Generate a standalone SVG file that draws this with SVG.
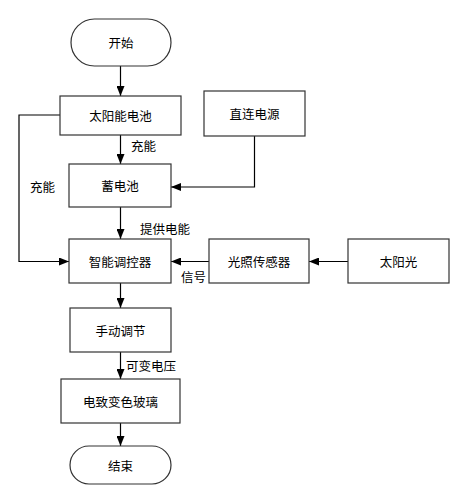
<svg xmlns="http://www.w3.org/2000/svg" width="466" height="504" viewBox="0 0 466 504">
<defs>
<marker id="arr" markerWidth="10" markerHeight="8" refX="10" refY="4" orient="auto" markerUnits="userSpaceOnUse">
<path d="M0,0 L10,4 L0,8 Z" fill="#000"/>
</marker>
<style>
.box{fill:#fff;stroke:#333;stroke-width:1.2}
.t{font-family:"Noto Sans CJK SC","Liberation Sans",sans-serif;font-size:12.5px;fill:#000;text-anchor:middle;dominant-baseline:central}
.l{font-family:"Noto Sans CJK SC","Liberation Sans",sans-serif;font-size:12.5px;fill:#000}
.c{fill:none;stroke:#000;stroke-width:1.2;marker-end:url(#arr)}
</style>
</defs>
<rect width="466" height="504" fill="#fff"/>
<g id="connectors">
<path class="c" d="M120.5 66 V96"/>
<path class="c" d="M120.5 135 V164"/>
<path class="c" d="M254.5 136 V187 H171"/>
<path class="c" d="M60 115 H19 V261.5 H69"/>
<path class="c" d="M120.5 207 V239"/>
<path class="c" d="M209 261.5 H171"/>
<path class="c" d="M348 261.5 H309"/>
<path class="c" d="M120.5 283 V308"/>
<path class="c" d="M120.5 352 V379"/>
<path class="c" d="M120.5 423 V446"/>
<text class="l" x="131" y="151">充能</text>
<text class="l" x="30" y="192">充能</text>
<text class="l" x="140" y="234">提供电能</text>
<text class="l" x="181" y="282">信号</text>
<text class="l" x="126" y="371">可变电压</text>
</g>
<g id="start"><rect class="box" x="71" y="19" width="100" height="47" rx="23.5"/><text class="t" x="121" y="42.5">开始</text></g>
<g id="solar"><rect class="box" x="60" y="96" width="121" height="39"/><text class="t" x="120.5" y="115.5">太阳能电池</text></g>
<g id="direct"><rect class="box" x="204" y="91" width="101" height="45"/><text class="t" x="254.5" y="113.5">直连电源</text></g>
<g id="battery"><rect class="box" x="69" y="164" width="102" height="43"/><text class="t" x="120" y="185.5">蓄电池</text></g>
<g id="controller"><rect class="box" x="69" y="239" width="102" height="44"/><text class="t" x="120" y="261">智能调控器</text></g>
<g id="sensor"><rect class="box" x="209" y="239" width="100" height="44"/><text class="t" x="259" y="261">光照传感器</text></g>
<g id="sun"><rect class="box" x="348" y="239" width="101" height="44"/><text class="t" x="398.5" y="261">太阳光</text></g>
<g id="manual"><rect class="box" x="70" y="308" width="101" height="44"/><text class="t" x="120.5" y="330">手动调节</text></g>
<g id="glass"><rect class="box" x="61" y="379" width="119" height="44"/><text class="t" x="120.5" y="401">电致变色玻璃</text></g>
<g id="end"><rect class="box" x="70" y="446" width="101" height="38" rx="19"/><text class="t" x="120.5" y="465">结束</text></g>
</svg>
